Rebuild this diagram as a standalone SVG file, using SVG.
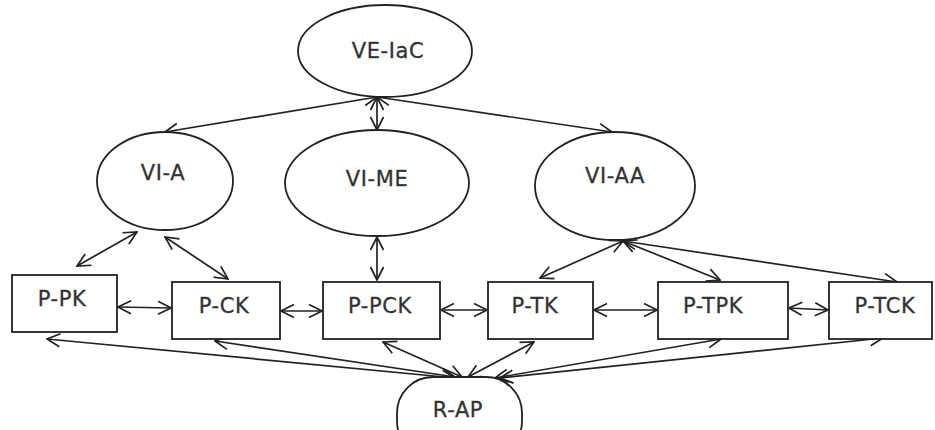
<svg xmlns="http://www.w3.org/2000/svg" width="935" height="430" viewBox="0 0 935 430">
<style>
.shape{fill:#fff;stroke:#222;stroke-width:1.8}
.lbl{font-family:"DejaVu Sans","Open Sans",sans-serif;font-size:21px;letter-spacing:0.6px;fill:#333;stroke:#333;stroke-width:0.3;text-anchor:middle}
.c{stroke:#222;stroke-width:1.7;fill:none;marker-start:url(#ah);marker-end:url(#ah)}
</style>
<defs>
<marker id="ah" markerUnits="userSpaceOnUse" markerWidth="16" markerHeight="16" viewBox="0 0 16 16" refX="15" refY="8" orient="auto-start-reverse">
<polyline points="2,1.5 15,8 2,14.5" fill="none" stroke="#222" stroke-width="1.7"/>
</marker>
</defs>
<rect width="935" height="430" fill="#fff"/>
<g id="connectors">
<line class="c" x1="377" y1="97" x2="165" y2="132"/>
<line class="c" x1="377" y1="97" x2="377" y2="130"/>
<line class="c" x1="377" y1="97" x2="612" y2="132"/>
<line class="c" x1="137" y1="232" x2="77" y2="266"/>
<line class="c" x1="165" y1="237" x2="228" y2="279"/>
<line class="c" x1="377" y1="237" x2="377" y2="280"/>
<line class="c" x1="623" y1="241" x2="540" y2="278"/>
<line class="c" x1="623" y1="241" x2="720" y2="280"/>
<line class="c" x1="623" y1="241" x2="897" y2="282"/>
<line class="c" x1="118" y1="307" x2="171" y2="308"/>
<line class="c" x1="281" y1="311" x2="322" y2="311"/>
<line class="c" x1="441" y1="310" x2="487" y2="310"/>
<line class="c" x1="594" y1="310" x2="657" y2="310"/>
<line class="c" x1="789" y1="308" x2="828" y2="310"/>
<line class="c" x1="455" y1="378" x2="47" y2="339"/>
<line class="c" x1="455" y1="377" x2="215" y2="341"/>
<line class="c" x1="462" y1="377" x2="383" y2="342"/>
<line class="c" x1="468" y1="377" x2="534" y2="342"/>
<line class="c" x1="495" y1="378" x2="721" y2="339"/>
<line class="c" x1="500" y1="378" x2="883" y2="338"/>
</g>
<g id="VE-IaC"><ellipse class="shape" cx="385" cy="51" rx="87" ry="46"/><text class="lbl" x="388" y="58">VE-IaC</text></g>
<g id="VI-A"><ellipse class="shape" cx="165" cy="181" rx="68" ry="49"/><text class="lbl" x="163" y="180">VI-A</text></g>
<g id="VI-ME"><ellipse class="shape" cx="377" cy="183" rx="92" ry="53"/><text class="lbl" x="377" y="186">VI-ME</text></g>
<g id="VI-AA"><ellipse class="shape" cx="615" cy="186" rx="80" ry="54"/><text class="lbl" x="615" y="183">VI-AA</text></g>
<g id="P-PK"><rect class="shape" x="12" y="275" width="105" height="57"/><text class="lbl" x="62" y="306">P-PK</text></g>
<g id="P-CK"><rect class="shape" x="172" y="282" width="108" height="57"/><text class="lbl" x="224" y="313">P-CK</text></g>
<g id="P-PCK"><rect class="shape" x="323" y="282" width="117" height="57"/><text class="lbl" x="380" y="313">P-PCK</text></g>
<g id="P-TK"><rect class="shape" x="488" y="282" width="105" height="57"/><text class="lbl" x="535" y="313">P-TK</text></g>
<g id="P-TPK"><rect class="shape" x="658" y="282" width="130" height="57"/><text class="lbl" x="713" y="313">P-TPK</text></g>
<g id="P-TCK"><rect class="shape" x="829" y="282" width="103" height="57"/><text class="lbl" x="885" y="313">P-TCK</text></g>
<g id="R-AP"><rect class="shape" x="397" y="377" width="125" height="80" rx="36" ry="36"/><text class="lbl" x="458" y="417">R-AP</text></g>
</svg>
